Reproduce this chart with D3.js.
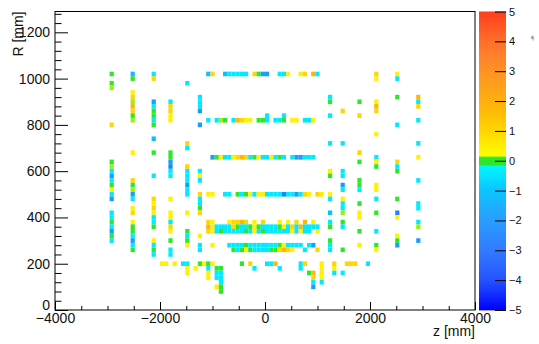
<!DOCTYPE html>
<html>
<head>
<meta charset="utf-8">
<script src="https://cdn.jsdelivr.net/npm/d3@7"></script>
<style>
  body { margin: 0; background: #fff; }
  text { font-family: "Liberation Sans", Arial, Helvetica, sans-serif; }
</style>
</head>
<body>
<svg id="chart" width="539" height="344"></svg>
<script>
// histogram binning (mm)
const zRange = [-4000, 4000];
const rRange = [0, 1290];
const zBin = 80;
const rBin = 20;

const zMajorTicks = [-4000, -2000, 0, 2000, 4000];
const zMinorTicks = [-3500, -3000, -2500, -1500, -1000, -500, 500, 1000, 1500, 2500, 3000, 3500];
const rMajorTicks = [0, 200, 400, 600, 800, 1000, 1200];
const rMinorTicks = d3.range(40, 1290, 40).filter(d => d % 200 !== 0);
const paletteTicks = [-5, -4, -3, -2, -1, 0, 1, 2, 3, 4, 5];

// colour code -> bin content
const codeValue = { B: -2.4, a: -1.8, l: -1.1, c: -0.4, g: 0, m: 0.15, y: 0.45, d: 1.0, o: 1.8 };

// vertical structures: z bin index, then "rBin+code" tokens
const endcapColumns = [
  [-37, "51g 49g 48m 40d 32g 31m 30c 29a 28c 27g 26y 25c 24a 21c 20c 19g 18c 17a 16g 15c"],
  [-32, "51l 50g 47y 46d 45m 44o 43d 42g 41m 34y 28d 27g 26m 25a 24c 22y 21d 19y 18g 17g 16c 15a 14c 13g"],
  [-27, "51c 50d 45a 44c 43g 42g 41c 40g 37l 34g 29c 24d 23y 22d 21y 20c 19c 18g 15y 14c 13g 12c"],
  [-23, "45c 44d 43d 42y 41y 34g 33g 32a 31B 30c 29c 24y 21y 20y 19c 18d 17y 15g 13c 12c"],
  [-19, "49c 36d 35c 31d 30c 29c 28c 27a 26c 25c 21y 17g 16c 15g 14y"],
  [-16, "46c 45c 44c 43a 40a 30c 29y 28c 25d 24c 23c 22g 21d 16y 14c 13c"],
  [15, "46c 45g 42c 36c 30y 29g 25y 24c 21l 19c 18g 15g 14c 13c"],
  [18, "43d 36c 30c 29c 27a 26c 24y 23c 22c 21m 19g 18c 13g"],
  [22, "45g 42d 34d 32g 28g 27g 26c 23g 21y 20y 17g 14y"],
  [26, "51d 50y 45y 44o 43d 38y 33c 32y 31g 27y 26y 24c 21g 17c 14g 13y"],
  [31, "51y 50c 46g 40c 32d 31c 30g 24g 21B 20y 16y 15g 14a"],
  [36, "46o 45c 44d 41c 36c 33y 28c 23c 22c 19c 18m 15a"]
];

// horizontal structures: r bin index, then "zBin+code" tokens
const barrelRows = [
  [51, "-14l -13d -10l -9c -8c -7c -6c -5c -3d -2g -1a 0a 3c 4c 5y 8y 9d 11o 12c"],
  [42, "0c 4c"],
  [41, "-14c -12c -11m -10g -8c -7o -6d -5y -4y -2g -1g 0c 2c 3c 4g 6y 7y 9c 10c 11y"],
  [33, "-13a -12g -11y -10c -9c -8y -7d -6o -5d -4c -3g -2y -1c 0c 1y 2c 3g 4c 6c 7a 8a 9c 10c 11c"],
  [25, "-14y -13y -10c -9c -7g -6c -5g -4y -3c -2y -1y 0c 1c 2c 3c 4B 5c 6c 7a 8c 9d 10y 12d 13y"],
  [19, "-14d -13y -9y -8d -7d -6o -5d -3y -1d 3y 5y 7d 9o 11y"],
  [18, "-14o -13y -12c -11c -10c -9c -8d -7g -6c -5c -4g -3y -2g -1c 0c 1c 2c 3g 4y 5c 6d 7c 8o 9c 10c 11c 12c"],
  [17, "-14d -13y -12c -11g -10c -9c -8c -7c -6c -5g -4c -3y -2c -1g 0c 1c 2c 3c 4c 5c 6y 7c 8y 9c 10c 12y"],
  [14, "-13y -9c -8c -7c -6c -5g -4c -3c -2c -1c 0c 1c 2c 3g 4y 5c 6c 7c 8c 10c 11a"],
  [13, "-8g -7c -6g -5y -4g -3c -2c -1c 0c 1g 2g 3d 4o 5d 6y 9c 12d"]
];

// low radius region
const lowRows = [
  [10, "-25y -24y -22y -20c -19c -16g -15y -14g -13y -6g -4d 0c 1c 2o 8c 9d 13y 16d 19d 20d 21d 24c"],
  [9, "-19y -17y -14c -12g -11g -3c 3c 8c 13y 16y"],
  [8, "-19y -14y -12c -11c 10g 11o 13y 16c 18c"],
  [7, "-14y -12c -11c 11d 13y"],
  [6, "-11c 11c 13c"],
  [5, "-12y -11g 11a"],
  [4, "-11g"]
];

// build bin list
const cells = [];
endcapColumns.forEach(([zi, s]) => {
  s.split(" ").forEach(t => {
    cells.push({ zi: zi, ri: parseInt(t), v: codeValue[t.slice(-1)] });
  });
});
barrelRows.concat(lowRows).forEach(([ri, s]) => {
  s.split(" ").forEach(t => {
    cells.push({ zi: parseInt(t), ri: ri, v: codeValue[t.slice(-1)] });
  });
});

const svg = d3.select("#chart");
const frame = { left: 55, right: 475, top: 11.5, bottom: 310 };

const x = d3.scaleLinear().domain(zRange).range([frame.left, frame.right]);
const y = d3.scaleLinear().domain(rRange).range([frame.bottom, frame.top]);

const color = d3.scaleLinear()
  .domain([-5, -4, -3, -2, -1, -0.16, -0.14, 0.14, 0.16, 1, 2, 3, 4, 5])
  .range(["#0000ff", "#1446ff", "#1e6eff", "#1a96ff", "#0cc4ff", "#00f8ff", "#2ee62a", "#2ee62a",
          "#ffff00", "#ffd600", "#ffae08", "#ff8a12", "#ff6218", "#ff3410"])
  .clamp(true);

// cells
svg.append("g")
  .selectAll("rect")
  .data(cells)
  .join("rect")
  .attr("x", d => x(d.zi * zBin))
  .attr("width", d => x((d.zi + 1) * zBin) - x(d.zi * zBin))
  .attr("y", d => y(d.ri * rBin + rBin / 2))
  .attr("height", d => y(d.ri * rBin - rBin / 2) - y(d.ri * rBin + rBin / 2))
  .attr("fill", d => color(d.v));

// frame
svg.append("rect")
  .attr("x", frame.left).attr("y", frame.top)
  .attr("width", frame.right - frame.left)
  .attr("height", frame.bottom - frame.top)
  .attr("fill", "none").attr("stroke", "#000").attr("stroke-width", 1);

// x axis
const gx = svg.append("g").attr("transform", `translate(0,${frame.bottom})`);
gx.call(d3.axisBottom(x).tickValues(zMajorTicks).tickSize(-8).tickPadding(3).tickFormat(d3.format("d")));
gx.append("g").call(d3.axisBottom(x).tickValues(zMinorTicks).tickSize(-4).tickFormat(""));

// y axis
const gy = svg.append("g").attr("transform", `translate(${frame.left},0)`);
gy.call(d3.axisLeft(y).tickValues(rMajorTicks).tickSize(-13).tickPadding(5).tickFormat(d3.format("d")));
gy.append("g").call(d3.axisLeft(y).tickValues(rMinorTicks).tickSize(-6.5).tickFormat(""));

[gx, gy].forEach(g => {
  g.selectAll(".domain").remove();
  g.selectAll("line").attr("stroke", "#000");
  g.selectAll("text").attr("font-size", 14).attr("fill", "#111")
    .attr("font-family", "'Liberation Sans', Arial, sans-serif");
});
// the "0" of the R axis sits just above the z labels
gy.selectAll(".tick text").filter(d => d === 0).attr("dy", "-0.05em");

// palette
const pal = { left: 479, right: 506 };
const c = d3.scaleLinear().domain([-5, 5]).range([frame.bottom, frame.top]);
const steps = d3.range(0, 300).map(i => -5 + (i + 0.5) * 10 / 300);
svg.append("g")
  .selectAll("rect")
  .data(steps)
  .join("rect")
  .attr("x", pal.left)
  .attr("width", pal.right - pal.left)
  .attr("y", d => c(d + 5 / 300))
  .attr("height", d => c(d - 5 / 300) - c(d + 5 / 300) + 0.4)
  .attr("fill", d => color(d));

const gc = svg.append("g").attr("transform", `translate(${pal.right},0)`);
gc.call(d3.axisRight(c).tickValues(paletteTicks).tickSize(-11).tickPadding(3).tickFormat(d3.format("d")));
gc.selectAll(".domain").remove();
gc.selectAll("line").attr("stroke", "#000");
gc.selectAll("text").attr("font-size", 11).attr("fill", "#111")
  .attr("font-family", "'Liberation Sans', Arial, sans-serif");

// axis titles
svg.append("text")
  .attr("x", frame.right).attr("y", 336)
  .attr("text-anchor", "end")
  .attr("font-size", 14).attr("fill", "#111")
  .text("z [mm]");

svg.append("text")
  .attr("transform", `translate(23,${frame.top}) rotate(-90)`)
  .attr("text-anchor", "end")
  .attr("font-size", 14).attr("fill", "#111")
  .text("R [mm]");

svg.append("text")
  .attr("transform", "translate(534,38) rotate(-90)")
  .attr("text-anchor", "middle")
  .attr("font-size", 4).attr("fill", "#666")
  .text("dR");
</script>
</body>
</html>
